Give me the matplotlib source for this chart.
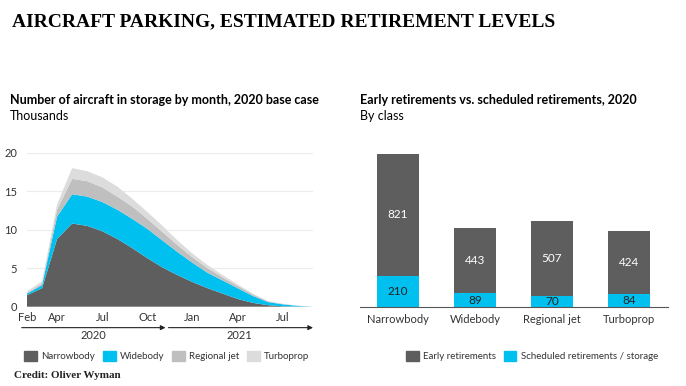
import numpy as np
import matplotlib.pyplot as plt
from matplotlib.patches import Patch
from matplotlib.transforms import blended_transform_factory

plt.rcParams["font.family"] = ["Lato", "DejaVu Sans"]

# --- donnees : appareils stockes par mois (milliers), fev. 2020 -> sept. 2021
months = np.arange(20)
tick_months = [0, 2, 5, 8, 11, 14, 17]
tick_labels = ["Feb", "Apr", "Jul", "Oct", "Jan", "Apr", "Jul"]
narrowbody = [1.5, 2.4, 8.8, 10.8, 10.5, 9.8, 8.8, 7.6, 6.3, 5.1, 4.1, 3.2, 2.4, 1.7, 1.0, 0.5, 0.2, 0.05, 0.02, 0.0]
widebody = [0.2, 0.4, 2.9, 3.8, 3.8, 3.8, 3.8, 3.8, 3.8, 3.5, 3.0, 2.5, 2.0, 1.7, 1.4, 0.9, 0.4, 0.25, 0.08, 0.0]
regional_jet = [0.1, 0.2, 0.9, 2.0, 2.0, 1.9, 1.7, 1.6, 1.3, 1.1, 0.9, 0.7, 0.6, 0.4, 0.3, 0.2, 0.1, 0.05, 0.02, 0.0]
turboprop = [0.2, 0.3, 0.7, 1.4, 1.3, 1.3, 1.3, 1.0, 0.9, 0.8, 0.6, 0.5, 0.4, 0.3, 0.2, 0.1, 0.05, 0.02, 0.01, 0.0]
area_labels = ["Narrowbody", "Widebody", "Regional jet", "Turboprop"]

# --- donnees : retraits 2020 par classe
classes = ["Narrowbody", "Widebody", "Regional jet", "Turboprop"]
scheduled = [210, 89, 70, 84]
early = [821, 443, 507, 424]

DARK = "#5e5e5e"
CYAN = "#00c0ef"
area_colors = [DARK, CYAN, "#bfbfbf", "#dcdcdc"]
TXT = "#222222"

W, H = 686, 386
fig = plt.figure(figsize=(W / 100, H / 100), dpi=100)


def px_axes(x0, y0, x1, y1):
    """Axes placees en pixels (origine en haut a gauche)."""
    return fig.add_axes([x0 / W, 1 - y1 / H, (x1 - x0) / W, (y1 - y0) / H])


fig.text(12 / W, 1 - 22 / H, "AIRCRAFT PARKING, ESTIMATED RETIREMENT LEVELS",
         family="Liberation Serif", weight="bold", fontsize=14, va="center", color="black")
fig.text(14 / W, 1 - 376 / H, "Credit: Oliver Wyman",
         family="Liberation Serif", weight="bold", fontsize=8, va="center", color=TXT)

# --- graphique de gauche : aires empilees
fig.text(10 / W, 1 - 100 / H, "Number of aircraft in storage by month, 2020 base case",
         weight="bold", fontsize=9, va="center", color="black")
fig.text(10 / W, 1 - 116 / H, "Thousands", fontsize=9, va="center", color="black")

ax = px_axes(27, 152.7, 313, 306.7)
ax.stackplot(months, narrowbody, widebody, regional_jet, turboprop,
             colors=area_colors, linewidth=0, zorder=2)
ax.set_xlim(0, 19)
ax.set_ylim(0, 20)
ax.set_yticks([0, 5, 10, 15, 20])
ax.set_xticks(tick_months, tick_labels)
ax.grid(axis="y", color="#ececec", linewidth=0.8, zorder=0)
ax.tick_params(length=0, labelsize=8, labelcolor="#333333")
ax.tick_params(axis="y", pad=7)
ax.tick_params(axis="x", pad=4)
for side in ax.spines.values():
    side.set_visible(False)

tr = blended_transform_factory(ax.transData, ax.transAxes)
for x0, x1, label, xl in [(-0.35, 9.2, "2020", 4.4), (9.4, 19.0, "2021", 14.1)]:
    ax.annotate("", xy=(x1, -0.136), xytext=(x0, -0.136), xycoords=tr, textcoords=tr,
                arrowprops=dict(arrowstyle="-|>", color="#222222", lw=0.8,
                                mutation_scale=7, shrinkA=0, shrinkB=0),
                annotation_clip=False)
    ax.text(xl, -0.19, label, transform=tr, ha="center", va="center", fontsize=8, color="#333333")

fig.legend([Patch(color=c) for c in area_colors], area_labels, ncol=4, frameon=False,
           loc="center", bbox_to_anchor=(167 / W, 1 - 356 / H), fontsize=7,
           handlelength=1.3, handleheight=1.2, handletextpad=0.45, columnspacing=0.8,
           labelcolor="#333333")

# --- graphique de droite : barres empilees
fig.text(360 / W, 1 - 100 / H, "Early retirements vs. scheduled retirements, 2020",
         weight="bold", fontsize=9, va="center", color="black")
fig.text(360 / W, 1 - 116 / H, "By class", fontsize=9, va="center", color="black")

bx = px_axes(360, 152.7, 668, 306.7)
pos = np.arange(len(classes))
b1 = bx.bar(pos, scheduled, width=0.545, color=CYAN, zorder=2)
b2 = bx.bar(pos, early, bottom=scheduled, width=0.545, color=DARK, zorder=2)
bx.bar_label(b1, label_type="center", fontsize=8.5, color="#222222")
bx.bar_label(b2, label_type="center", fontsize=8.5, color="white")
bx.set_xlim(-0.494, 3.506)
bx.set_ylim(0, 1038)
bx.set_yticks([])
bx.set_xticks(pos, classes)
bx.tick_params(length=0, labelsize=8, labelcolor="#333333", pad=5)
for name, side in bx.spines.items():
    side.set_visible(name == "bottom")
bx.spines["bottom"].set_color("#555555")
bx.spines["bottom"].set_linewidth(0.8)

fig.legend([Patch(color=DARK), Patch(color=CYAN)],
           ["Early retirements", "Scheduled retirements / storage"], ncol=2, frameon=False,
           loc="center", bbox_to_anchor=(532 / W, 1 - 356 / H), fontsize=7,
           handlelength=1.3, handleheight=1.2, handletextpad=0.45, columnspacing=0.8,
           labelcolor="#333333")

fig.savefig("out.png", dpi=100)
